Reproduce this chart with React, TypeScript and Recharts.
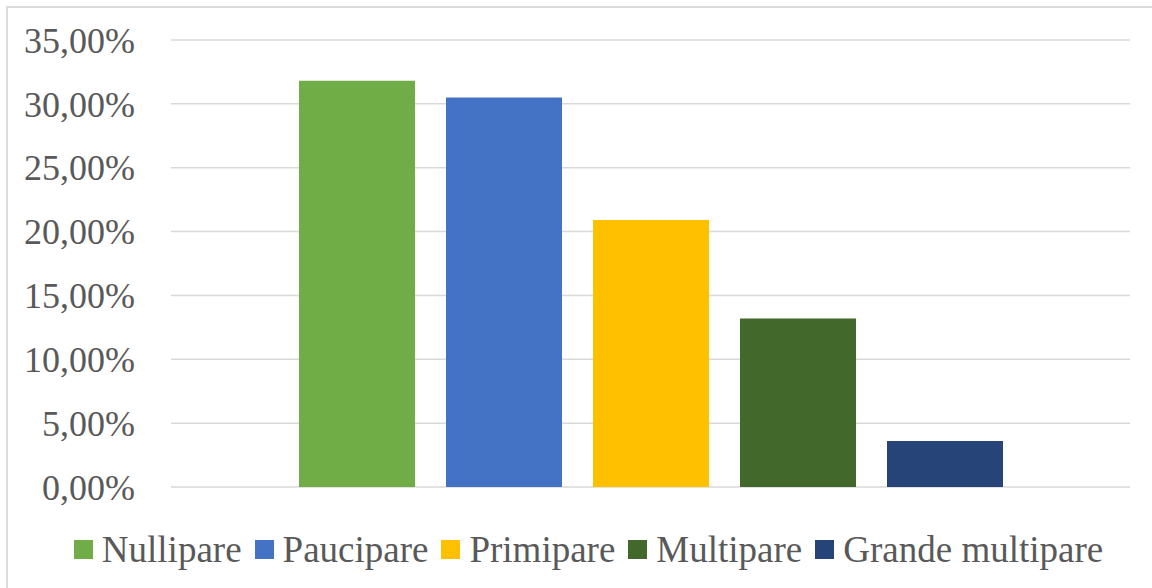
import React from 'react';
import { BarChart, Bar, XAxis, YAxis, CartesianGrid, Legend } from 'recharts';

// Parity groups and their share of the sample (%)
const groups = ['Nullipare', 'Paucipare', 'Primipare', 'Multipare', 'Grande multipare'];
const shares = [31.8, 30.5, 20.9, 13.2, 3.6];
const groupColors = ['#70ad47', '#4472c4', '#ffc000', '#43682b', '#264478'];
const yTicks = [0, 5, 10, 15, 20, 25, 30, 35];

const row: Record<string, string | number> = { name: '' };
groups.forEach((g, i) => {
  row[g] = shares[i];
});
const data = [row];

const FONT = "'Liberation Serif', 'Times New Roman', serif";
const TEXT = '#595959';

const pct = (v: number) => v.toFixed(2).replace('.', ',') + '%';

// Legend entries kept in series order
const LegendRow = (props: any) => {
  const items = [...((props.payload || []) as any[])].sort(
    (a, b) => groups.indexOf(a.value) - groups.indexOf(b.value)
  );
  return (
    <div
      style={{
        display: 'flex',
        justifyContent: 'center',
        alignItems: 'center',
        paddingLeft: 25,
        fontFamily: FONT,
        fontSize: 37,
        lineHeight: '37px',
        color: TEXT,
        whiteSpace: 'nowrap',
      }}
    >
      {items.map((it, i) => (
        <div key={it.value} style={{ display: 'flex', alignItems: 'center', marginLeft: i === 0 ? 0 : 13 }}>
          <span style={{ display: 'inline-block', width: 19, height: 19, background: it.color, marginRight: 9 }} />
          <span>{it.value}</span>
        </div>
      ))}
    </div>
  );
};

export default function App() {
  return (
    <div
      style={{
        position: 'absolute',
        left: 0,
        top: 0,
        width: 1152,
        height: 588,
        background: '#ffffff',
        overflow: 'hidden',
      }}
    >
      <div
        style={{
          position: 'absolute',
          left: 6,
          top: 6,
          width: 1300,
          height: 700,
          border: '2px solid #dcdcdc',
          boxSizing: 'border-box',
        }}
      />
      <div style={{ position: 'absolute', left: 0, top: 0 }}>
        <BarChart
          width={1152}
          height={588}
          data={data}
          margin={{ top: 40, right: 22, bottom: 101, left: 0 }}
          barSize={116}
          barGap={31}
        >
          <CartesianGrid vertical={false} stroke="#d9d9d9" strokeWidth={1.5} />
          <XAxis dataKey="name" hide />
          <YAxis
            width={171}
            domain={[0, 35]}
            ticks={yTicks}
            interval={0}
            tickFormatter={pct}
            axisLine={false}
            tickLine={false}
            tickSize={0}
            tickMargin={36}
            tick={{ fill: TEXT, fontSize: 36, fontFamily: FONT }}
          />
          <Legend
            layout="horizontal"
            verticalAlign="middle"
            align="center"
            wrapperStyle={{ top: 531, left: 0, width: 1152 }}
            content={<LegendRow />}
          />
          {groups.map((g, i) => (
            <Bar key={g} dataKey={g} name={g} fill={groupColors[i]} isAnimationActive={false} />
          ))}
        </BarChart>
      </div>
    </div>
  );
}
